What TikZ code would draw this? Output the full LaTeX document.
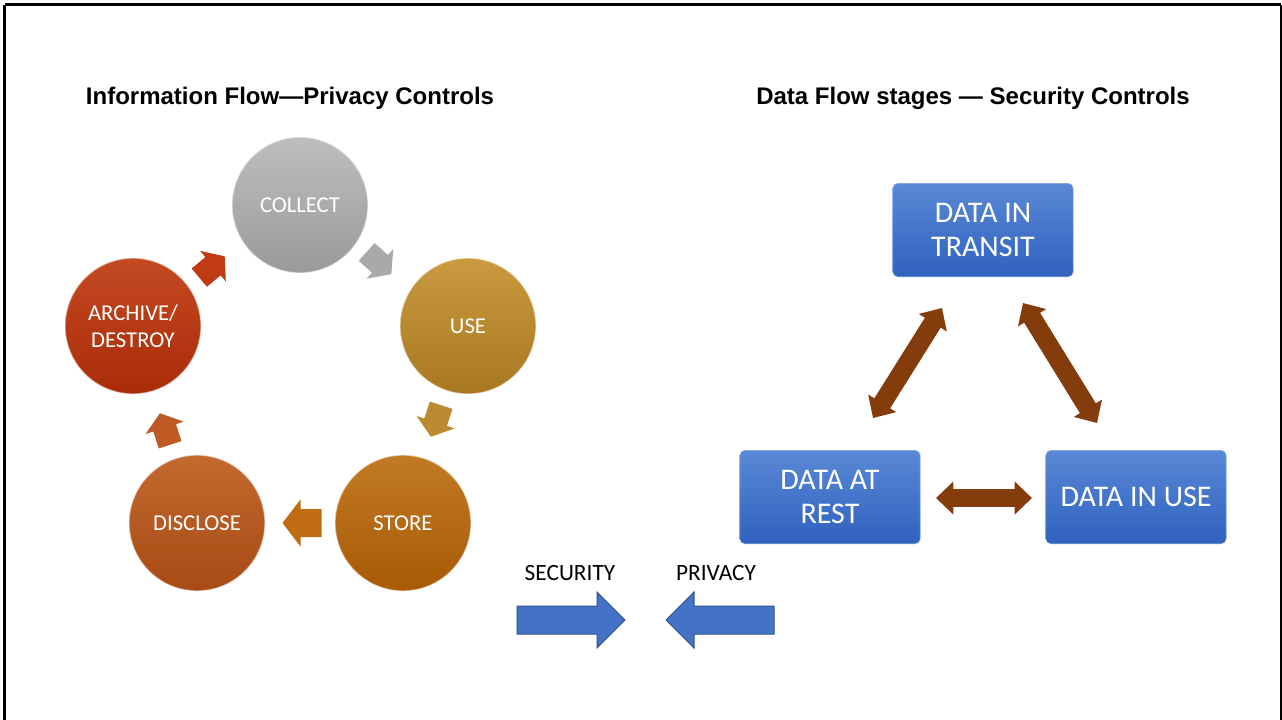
\documentclass[tikz,border=0pt]{standalone}
\usepackage{fontspec}
\setmainfont{Carlito}
\newfontfamily\arialf{Liberation Sans}
\usetikzlibrary{arrows.meta}
\definecolor{ctop}{HTML}{BEBEBE}\definecolor{cbot}{HTML}{9A9A9A}
\definecolor{utop}{HTML}{C99A40}\definecolor{ubot}{HTML}{A87820}
\definecolor{stop}{HTML}{C27A25}\definecolor{sbot}{HTML}{A85A05}
\definecolor{dtop}{HTML}{C26A30}\definecolor{dbot}{HTML}{A84A14}
\definecolor{atop}{HTML}{C44A22}\definecolor{abot}{HTML}{A82C08}
\definecolor{a1}{HTML}{A9A9A9}\definecolor{a2}{HTML}{BC8A30}
\definecolor{a3}{HTML}{C06C12}\definecolor{a4}{HTML}{BE5A24}
\definecolor{a5}{HTML}{C03A14}
\definecolor{btop}{HTML}{5A88D6}\definecolor{bbot}{HTML}{2F62BF}
\definecolor{brownarr}{HTML}{843C0C}
\definecolor{bluearr}{HTML}{4472C4}\definecolor{bluedge}{HTML}{2F528F}
\tikzset{
  cyc/.style={circle, minimum size=102pt, inner sep=0pt, text=white,
    font=\fontsize{17}{20}\selectfont, align=center,
    draw=white, draw opacity=0.55, line width=1pt},
  dbox/.style={rectangle, rounded corners=4pt, minimum width=135.75pt,
    minimum height=70.5pt, inner sep=0pt, text=white, align=center,
    top color=btop, bottom color=bbot, draw=white, draw opacity=0.4, line width=0.8pt,
    font=\fontsize{22.5}{25.5}\selectfont},
  ttl/.style={font=\arialf\bfseries\fontsize{18}{21}\selectfont, anchor=base, inner sep=0pt},
  lbl/.style={font=\fontsize{17.5}{20}\selectfont, anchor=base, inner sep=0pt},
  dblarrow/.style={draw=brownarr, line width=14pt, line cap=butt,
    {Triangle[width=24pt,length=13pt]}-{Triangle[width=24pt,length=13pt]}},
  bigarrow/.style={fill=bluearr, draw=bluedge, line width=0.75pt, line join=miter},
  cycarrow/.pic={\fill[pic actions] (-19.5,-14) -- (1.5,-14) -- (1.5,-23.5) -- (19.5,0)
     -- (1.5,23.5) -- (1.5,14) -- (-19.5,14) -- cycle;}
}
\begin{document}
\begin{tikzpicture}[x=0.75pt, y=-0.75pt]
\useasboundingbox (0,0) rectangle (1282,719);
\fill[white] (0,0) rectangle (1282,719);
\draw[line width=2.2pt] (4.5,4.5) -- (1281,4.5);
\draw[line width=2.2pt] (4.5,4.5) -- (4.5,730);
\draw[line width=2.2pt] (1281,4.5) -- (1281,730);

% titles
\node[ttl] (t1) at (290,104) {Information Flow—Privacy Controls};
\node[ttl] (t2) at (973,104) {Data Flow stages — Security Controls};

% cycle
\node[cyc, top color=ctop, bottom color=cbot] (collect) at (300,205) {COLLECT};
\node[cyc, top color=utop, bottom color=ubot] (use) at (468,326) {USE};
\node[cyc, top color=stop, bottom color=sbot] (store) at (403,523) {STORE};
\node[cyc, top color=dtop, bottom color=dbot] (disclose) at (197,523) {DISCLOSE};
\node[cyc, top color=atop, bottom color=abot] (archive) at (133,326) {ARCHIVE/\\DESTROY};

\pic[fill=a1, rotate=-42, scale=0.85] at (379,263) {cycarrow};
\pic[fill=a2, rotate=-108, scale=0.85] at (436,421) {cycarrow};
\pic[fill=a3, rotate=180] at (302,523) {cycarrow};
\pic[fill=a4, rotate=108, scale=0.85] at (165,429) {cycarrow};
\pic[fill=a5, rotate=40, scale=0.85] at (212,267) {cycarrow};

% data flow boxes
\node[dbox] (transit) at (983,230) {DATA IN\\TRANSIT};
\node[dbox] (rest) at (830,497) {DATA AT\\REST};
\node[dbox] (inuse) at (1136,497) {DATA IN USE};

\coordinate (l1) at (873,418);
\coordinate (l2) at (942,308);
\coordinate (r1) at (1023,303);
\coordinate (r2) at (1097,423);
\coordinate (h1) at (936,498);
\coordinate (h2) at (1032,498);
\draw[dblarrow] (l1) -- (l2);
\draw[dblarrow] (r1) -- (r2);
\draw[dblarrow] (h1) -- (h2);

% security / privacy
\node[lbl] (sec) at (570,580) {SECURITY};
\node[lbl] (priv) at (716,580) {PRIVACY};
\draw[bigarrow] (517,606) -- (597,606) -- (597,592) -- (625,620) -- (597,648)
  -- (597,634) -- (517,634) -- cycle;
\draw[bigarrow] (774,606) -- (694,606) -- (694,592) -- (666,620) -- (694,648)
  -- (694,634) -- (774,634) -- cycle;
\end{tikzpicture}
\end{document}
